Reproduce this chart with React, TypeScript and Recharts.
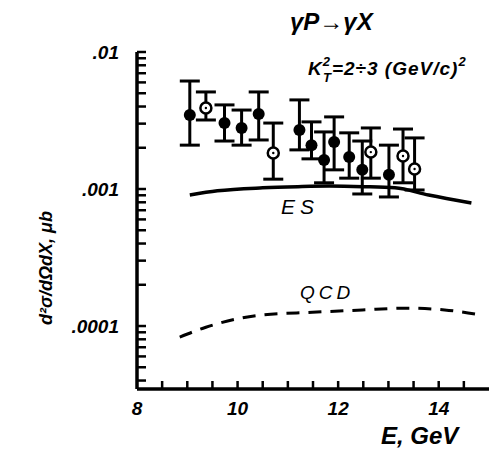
import React from 'react';
import { ComposedChart, Line, Scatter, ErrorBar, XAxis, YAxis } from 'recharts';

// measured points, E in GeV
const energy = [9.05, 9.37, 9.74, 10.08, 10.42, 10.71, 11.23, 11.47, 11.72, 11.92, 12.22, 12.48, 12.65, 13.01, 13.29, 13.52];
const sigma = [0.00347, 0.0039, 0.00303, 0.00279, 0.00353, 0.00183, 0.0027, 0.00209, 0.00163, 0.0022, 0.00171, 0.00138, 0.00186, 0.00127, 0.00174, 0.0014];
const sigmaHigh = [0.00614, 0.00511, 0.00411, 0.00377, 0.00511, 0.00303, 0.00447, 0.00309, 0.00261, 0.00336, 0.00257, 0.00224, 0.00279, 0.00209, 0.00274, 0.00236];
const sigmaLow = [0.00209, 0.00319, 0.00224, 0.00209, 0.00228, 0.00118, 0.00193, 0.00166, 0.00111, 0.00138, 0.0012, 0.00092, 0.0012, 0.000875, 0.00111, 0.000984];
const openMarker = [false, true, false, false, false, true, false, false, false, false, false, false, true, false, true, true];

// model curves
const esEnergy = [9.05, 9.6, 10.5, 11.2, 11.82, 12.5, 13.13, 13.8, 14.65];
const esSigma = [0.000904, 0.00097, 0.00102, 0.00104, 0.00105, 0.00104, 0.00102, 0.000904, 0.00079];
const qcdEnergy = [8.85, 9.37, 10.44, 11.49, 12.48, 13.33, 14.12, 14.85];
const qcdSigma = [0.000083, 0.000098, 0.00012, 0.000126, 0.000131, 0.000135, 0.000131, 0.00012];

const xTicks = [8, 8.5, 9, 9.5, 10, 10.5, 11, 11.5, 12, 12.5, 13, 13.5, 14, 14.5];
const xLabels = [8, 10, 12, 14];
const yTicks = [
  0.00004, 0.00005, 0.00006, 0.00007, 0.00008, 0.00009, 0.0001,
  0.0002, 0.0003, 0.0004, 0.0005, 0.0006, 0.0007, 0.0008, 0.0009, 0.001,
  0.002, 0.003, 0.004, 0.005, 0.006, 0.007, 0.008, 0.009, 0.01,
];
const yLabels: Record<string, string> = { '0.01': '.01', '0.001': '.001', '0.0001': '.0001' };

const points = energy.map((e, i) => ({
  x: e,
  y: sigma[i],
  err: [sigma[i] - sigmaLow[i], sigmaHigh[i] - sigma[i]],
  open: openMarker[i],
}));
const es = esEnergy.map((e, i) => ({ x: e, y: esSigma[i] }));
const qcd = qcdEnergy.map((e, i) => ({ x: e, y: qcdSigma[i] }));

const font = '"Liberation Sans", Arial, sans-serif';

const XTick = (props: any) => {
  const { x, y, payload } = props;
  const v = Number(payload.value);
  return (
    <g>
      {v > 8 && <line x1={x} x2={x} y1={y} y2={y - 8} stroke="#000" strokeWidth={2.5} />}
      {xLabels.indexOf(v) >= 0 && (
        <text x={x} y={y + 26} textAnchor="middle" fontSize={19} fontWeight="bold" fontStyle="italic" fontFamily={font} fill="#000">
          {String(v)}
        </text>
      )}
    </g>
  );
};

const YTick = (props: any) => {
  const { x, y, payload } = props;
  const label = yLabels[String(payload.value)];
  return (
    <g>
      <line x1={x} x2={x + 9} y1={y} y2={y} stroke="#000" strokeWidth={2.5} />
      {label && (
        <text x={x - 18} y={y + 7} textAnchor="end" fontSize={19} fontWeight="bold" fontStyle="italic" fontFamily={font} fill="#000">
          {label}
        </text>
      )}
    </g>
  );
};

const Marker = (props: any) => {
  const { cx, cy, payload } = props;
  if (payload.open) {
    return (
      <g>
        <circle cx={cx} cy={cy} r={5.5} fill="#fff" stroke="#000" strokeWidth={2.5} />
        <circle cx={cx} cy={cy} r={1.2} fill="#000" />
      </g>
    );
  }
  return <circle cx={cx} cy={cy} r={6} fill="#000" />;
};

export default function App() {
  return (
    <div style={{ position: 'absolute', left: 0, top: 0, width: 489, height: 451, background: '#fff' }}>
      <ComposedChart width={489} height={451} margin={{ top: 52, right: 0, bottom: 22, left: 57 }}>
        <XAxis
          type="number"
          dataKey="x"
          domain={[8, 15]}
          ticks={xTicks}
          interval={0}
          height={40}
          tickSize={0}
          tickMargin={0}
          tickLine={false}
          axisLine={{ stroke: '#000', strokeWidth: 3.5 }}
          tick={<XTick />}
          allowDataOverflow
        />
        <YAxis
          type="number"
          dataKey="y"
          scale="log"
          domain={[0.0000347, 0.01]}
          ticks={yTicks}
          width={80}
          tickSize={0}
          tickMargin={0}
          tickLine={false}
          axisLine={{ stroke: '#000', strokeWidth: 3.5 }}
          tick={<YTick />}
          interval={0}
          allowDataOverflow
        />
        <Line data={es} dataKey="y" type="monotone" stroke="#000" strokeWidth={3.5} dot={false} isAnimationActive={false} />
        <Line
          data={qcd}
          dataKey="y"
          type="monotone"
          stroke="#000"
          strokeWidth={3}
          strokeDasharray="13 9"
          dot={false}
          isAnimationActive={false}
        />
        <Scatter data={points} dataKey="y" shape={<Marker />} isAnimationActive={false}>
          <ErrorBar dataKey="err" direction="y" width={10} stroke="#000" strokeWidth={3} />
        </Scatter>
      </ComposedChart>
      <svg width={489} height={451} style={{ position: 'absolute', left: 0, top: 0, pointerEvents: 'none' }}>
        <g fontFamily={font} fill="#000" fontStyle="italic" fontWeight="bold">
          <text x={290} y={30} fontSize={24}>γP→γX</text>
          <text x={308} y={75} fontSize={19} letterSpacing={1}>
            K<tspan dy={-9} fontSize={13}>2</tspan>
            <tspan dx={-8} dy={16} fontSize={13}>T</tspan>
            <tspan dy={-7}>=2÷3 (GeV/c)</tspan>
            <tspan dy={-9} fontSize={13}>2</tspan>
          </text>
          <text x={281} y={214} fontSize={21} fontWeight="normal" letterSpacing={5}>ES</text>
          <text x={300} y={299} fontSize={19} fontWeight="normal" letterSpacing={4}>QCD</text>
          <text x={381} y={444} fontSize={24}>E, GeV</text>
        </g>
        <text
          x={0}
          y={0}
          fontFamily={font}
          fontStyle="italic"
          fontWeight="bold"
          fontSize={18}
          textAnchor="middle"
          fill="#000"
          transform="translate(52 268) rotate(-90)"
        >
          d²σ/dΩdX, μb
        </text>
      </svg>
    </div>
  );
}
